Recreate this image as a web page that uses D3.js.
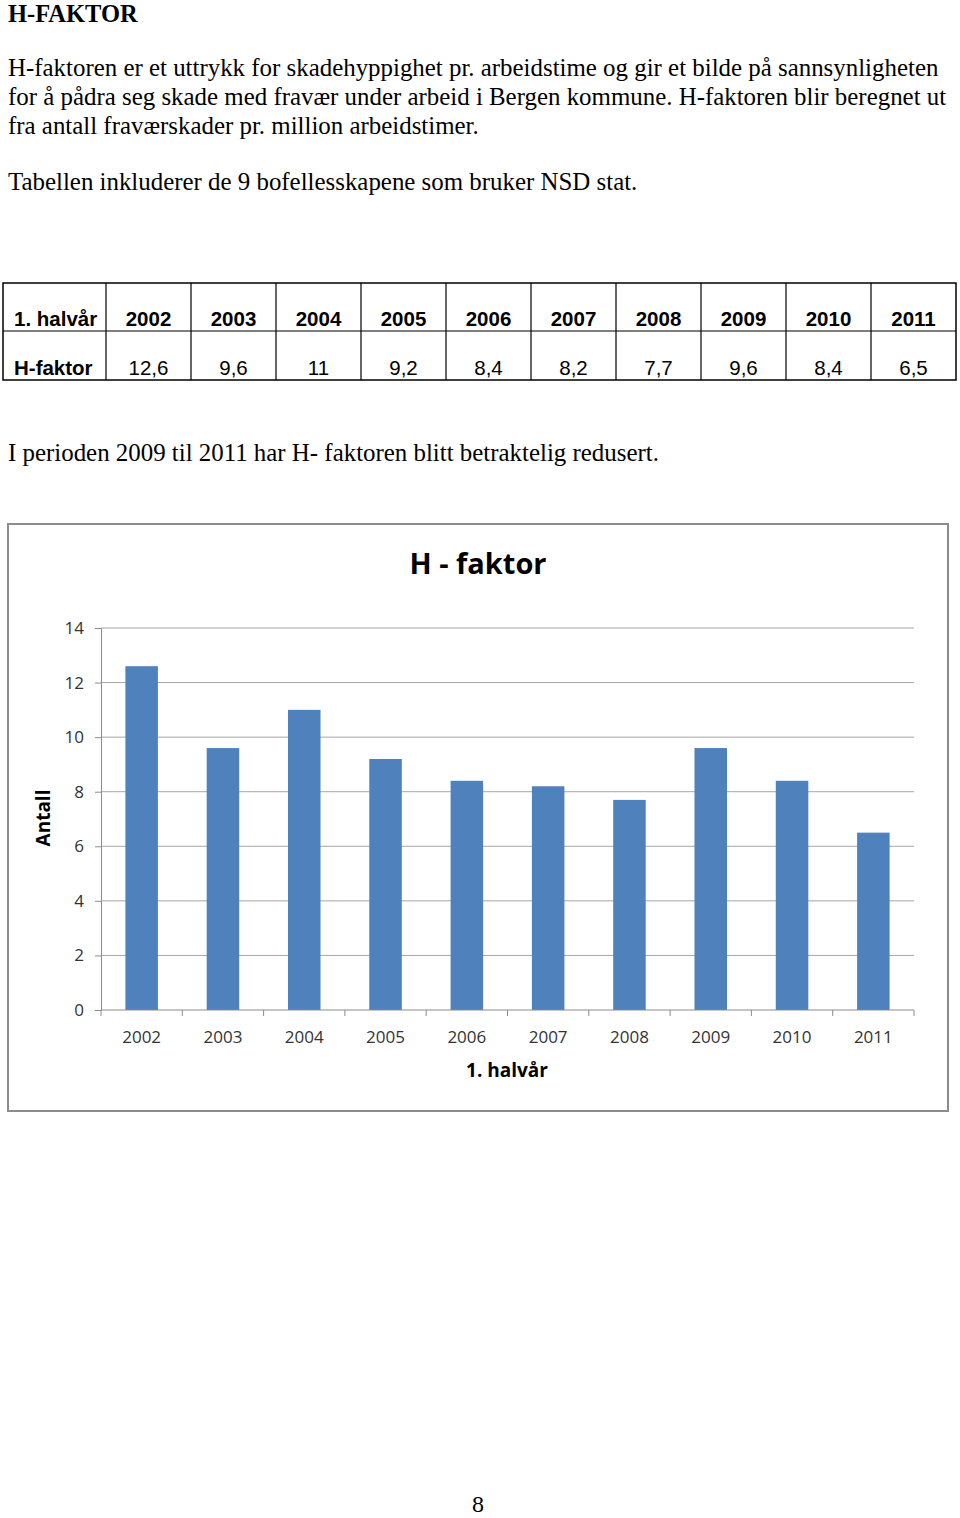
<!DOCTYPE html>
<html>
<head>
<meta charset="utf-8">
<script src="https://cdn.jsdelivr.net/npm/d3@7"></script>
<style>
body { margin: 0; background: #fff; }
</style>
</head>
<body>
<script>
const w = 960;
const h = 1518;

// data read from the page
const years = ['2002', '2003', '2004', '2005', '2006', '2007', '2008', '2009', '2010', '2011'];
const hValues = [12.6, 9.6, 11, 9.2, 8.4, 8.2, 7.7, 9.6, 8.4, 6.5];
const yTicks = [0, 2, 4, 6, 8, 10, 12, 14];

const heading = 'H-FAKTOR';
const introLines = [
  'H-faktoren er et uttrykk for skadehyppighet pr. arbeidstime og gir et bilde på sannsynligheten',
  'for å pådra seg skade med fravær under arbeid i Bergen kommune. H-faktoren blir beregnet ut',
  'fra antall fraværskader pr. million arbeidstimer.'
];
const tableNote = 'Tabellen inkluderer de 9 bofellesskapene som bruker NSD stat.';
const afterNote = 'I perioden 2009 til 2011 har H- faktoren blitt betraktelig redusert.';

const serif = '"Liberation Serif", "Times New Roman", serif';
const sans = '"Liberation Sans", Arial, sans-serif';
const chartFont = '"Open Sans", sans-serif';
const comma = v => String(v).replace('.', ',');

const svg = d3.select('body').append('svg').attr('width', w).attr('height', h)

// text above
svg.append('text').attr('x', 8).attr('y', 22).text(heading)
  .style('font-family', serif).style('font-size', '24.5px').style('font-weight', 'bold')

svg.selectAll('.intro').data(introLines).enter()
  .append('text').attr('class', 'intro')
  .attr('x', 8).attr('y', (d, i) => 76 + i * 29)
  .text(d => d)
  .style('font-family', serif).style('font-size', '24.9px')

svg.append('text').attr('x', 8).attr('y', 190).text(tableNote)
  .style('font-family', serif).style('font-size', '24.9px')

// table
const tLeft = 3, tFirst = 106, tRight = 956;
const rowY = [283, 331, 380];
const colX = d3.scaleBand().domain(years).range([tFirst, tRight]);
const table = svg.append('g')

table.append('rect').attr('x', tLeft).attr('y', rowY[0]).attr('width', tRight - tLeft).attr('height', rowY[2] - rowY[0])
  .attr('fill', 'none').attr('stroke', '#000').attr('stroke-width', 1.5)
table.append('line').attr('x1', tLeft).attr('x2', tRight).attr('y1', rowY[1]).attr('y2', rowY[1])
  .attr('stroke', '#000').attr('stroke-width', 1.2)
table.selectAll('.vline').data(years).enter().append('line').attr('class', 'vline')
  .attr('x1', d => colX(d)).attr('x2', d => colX(d)).attr('y1', rowY[0]).attr('y2', rowY[2])
  .attr('stroke', '#000').attr('stroke-width', 1.2)

table.append('text').attr('x', 14).attr('y', 326).text('1. halvår')
  .style('font-family', sans).style('font-size', '20.5px').style('font-weight', 'bold')
table.append('text').attr('x', 14).attr('y', 375).text('H-faktor')
  .style('font-family', sans).style('font-size', '20.5px').style('font-weight', 'bold')

table.selectAll('.yr').data(years).enter().append('text').attr('class', 'yr')
  .attr('x', d => colX(d) + colX.bandwidth() / 2).attr('y', 326)
  .attr('text-anchor', 'middle').text(d => d)
  .style('font-family', sans).style('font-size', '20.5px').style('font-weight', 'bold')

table.selectAll('.val').data(hValues).enter().append('text').attr('class', 'val')
  .attr('x', (d, i) => colX(years[i]) + colX.bandwidth() / 2).attr('y', 375)
  .attr('text-anchor', 'middle').text(d => comma(d))
  .style('font-family', sans).style('font-size', '20.5px')

svg.append('text').attr('x', 8).attr('y', 461).text(afterNote)
  .style('font-family', serif).style('font-size', '24.9px')

// chart frame
svg.append('rect').attr('x', 8).attr('y', 524).attr('width', 940).attr('height', 587)
  .attr('fill', '#fff').attr('stroke', '#8c8c8c').attr('stroke-width', 2)

const xScale = d3.scaleBand().domain(years).range([101, 914]).paddingInner(0.6).paddingOuter(0.3)
const yScale = d3.scaleLinear().domain([0, 14]).range([1010, 628])

// gridlines
svg.selectAll('.grid').data(yTicks.filter(d => d > 0)).enter()
  .append('line').attr('class', 'grid')
  .attr('x1', 101).attr('x2', 914)
  .attr('y1', d => yScale(d)).attr('y2', d => yScale(d))
  .attr('stroke', '#a6a6a6').attr('stroke-width', 1)

// bars
svg.selectAll('.bar').data(hValues).enter()
  .append('rect').attr('class', 'bar')
  .attr('x', (d, i) => xScale(years[i]))
  .attr('y', d => yScale(d))
  .attr('width', xScale.bandwidth())
  .attr('height', d => yScale(0) - yScale(d))
  .attr('fill', '#4f81bd')

// y axis
const leftAxis = d3.axisLeft(yScale).tickValues(yTicks).tickSize(6).tickPadding(11)
const gy = svg.append('g').attr('transform', 'translate(101,0)').call(leftAxis)
gy.select('.domain').attr('stroke', '#8c8c8c')
gy.selectAll('.tick line').attr('stroke', '#8c8c8c')
gy.selectAll('.tick text').style('font-family', chartFont).style('font-size', '17px').attr('fill', '#333')

// x axis: ticks between categories
const step = xScale.step();
const bounds = d3.range(years.length + 1).map(i => 101 + i * step);
svg.append('line').attr('x1', 101).attr('x2', 914).attr('y1', yScale(0)).attr('y2', yScale(0))
  .attr('stroke', '#8c8c8c')
svg.selectAll('.xtick').data(bounds).enter().append('line').attr('class', 'xtick')
  .attr('x1', d => d).attr('x2', d => d).attr('y1', yScale(0)).attr('y2', yScale(0) + 6)
  .attr('stroke', '#8c8c8c')
svg.selectAll('.xlab').data(years).enter().append('text').attr('class', 'xlab')
  .attr('x', d => xScale(d) + xScale.bandwidth() / 2).attr('y', 1043)
  .attr('text-anchor', 'middle').text(d => d)
  .style('font-family', chartFont).style('font-size', '17px').attr('fill', '#333')

// titles
svg.append('text').attr('x', 478).attr('y', 574).attr('text-anchor', 'middle').text('H - faktor')
  .style('font-family', chartFont).style('font-size', '29px').style('font-weight', 'bold')
svg.append('text').attr('x', 507).attr('y', 1077).attr('text-anchor', 'middle').text('1. halvår')
  .style('font-family', chartFont).style('font-size', '19px').style('font-weight', 'bold')
svg.append('text').attr('transform', 'translate(50,818) rotate(-90)').attr('text-anchor', 'middle').text('Antall')
  .style('font-family', chartFont).style('font-size', '19px').style('font-weight', 'bold')

// page number
svg.append('text').attr('x', 478).attr('y', 1512).attr('text-anchor', 'middle').text('8')
  .style('font-family', serif).style('font-size', '24px')
</script>
</body>
</html>
